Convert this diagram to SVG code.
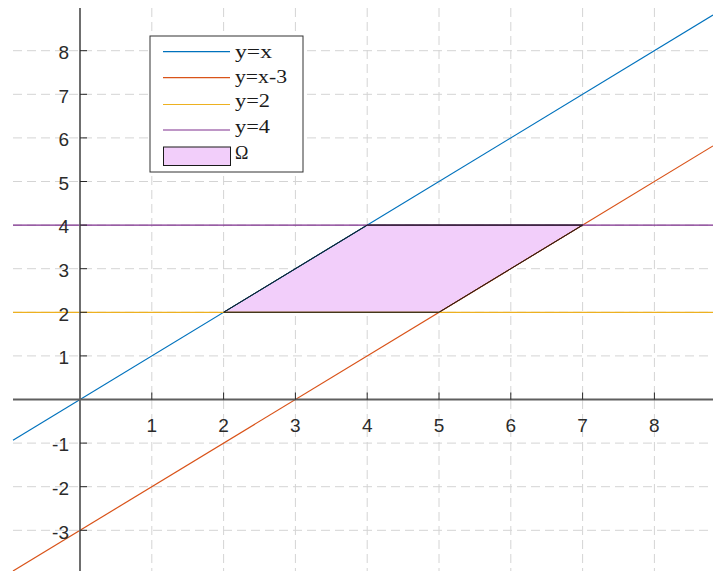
<svg xmlns="http://www.w3.org/2000/svg" width="713" height="571" viewBox="0 0 713 571">
<style>
.grid{stroke:#d4d4d4;stroke-width:1;stroke-dasharray:9,5;fill:none}
.axis{stroke:#5f5f5f;stroke-width:1.8;fill:none}
.tick{stroke:#262626;stroke-width:1;fill:none}
.tl{font-family:"Liberation Sans",Arial,sans-serif;font-size:19px;fill:#2b2b2b}
.ly{text-anchor:end}
.lx{text-anchor:middle}
.leg{font-family:"Liberation Serif","Times New Roman",serif;font-size:18px;fill:#1a1a1a}
.c1{stroke:#0072BD;stroke-width:1.2;fill:none}
.c2{stroke:#D95319;stroke-width:1.2;fill:none}
.c3{stroke:#EDB120;stroke-width:1.2;fill:none}
.c4{stroke:#7E2F8E;stroke-width:1.2;fill:none}
</style>
<rect width="713" height="571" fill="#ffffff"/>
<g id="grid">
<path class="grid" d="M13 50.7H713M13 94.3H713M13 137.9H713M13 181.5H713M13 225.1H713M13 268.7H713M13 312.3H713M13 355.9H713M13 443.1H713M13 486.7H713M13 530.3H713"/>
<path class="grid" d="M151.8 8V571M223.6 8V571M295.4 8V571M367.2 8V571M439 8V571M510.8 8V571M582.6 8V571M654.4 8V571"/>
</g>
<g id="region">
<polygon points="223.6,312.3 367.2,225.1 582.6,225.1 439,312.3" fill="#F2CEFA" stroke="#1a1a1a" stroke-width="1"/>
</g>
<g id="curves">
<line class="c1" x1="13" y1="440.2" x2="713" y2="15.1"/>
<line class="c2" x1="13" y1="571" x2="713" y2="145.9"/>
<line class="c3" x1="13" y1="312.3" x2="713" y2="312.3"/>
<line class="c4" x1="13" y1="225.1" x2="713" y2="225.1"/>
<path d="M223.6 312.3L367.2 225.1H582.6L439 312.3Z" fill="none" stroke="#1a1a1a" stroke-width="1"/>
</g>
<g id="axes">
<line class="axis" x1="13" y1="399.5" x2="713" y2="399.5"/>
<line class="axis" x1="80" y1="8" x2="80" y2="571"/>
<path class="tick" d="M80 50.7h7M80 94.3h7M80 137.9h7M80 181.5h7M80 225.1h7M80 268.7h7M80 312.3h7M80 355.9h7M80 443.1h7M80 486.7h7M80 530.3h7"/>
<path class="tick" d="M151.8 399.5v-7M223.6 399.5v-7M295.4 399.5v-7M367.2 399.5v-7M439 399.5v-7M510.8 399.5v-7M582.6 399.5v-7M654.4 399.5v-7"/>
</g>
<g id="ylabels" class="tl ly">
<text x="69" y="59">8</text>
<text x="69" y="102.6">7</text>
<text x="69" y="146.2">6</text>
<text x="69" y="189.8">5</text>
<text x="69" y="233.4">4</text>
<text x="69" y="277">3</text>
<text x="69" y="320.6">2</text>
<text x="69" y="364.2">1</text>
<text x="69" y="451.4">-1</text>
<text x="69" y="495">-2</text>
<text x="69" y="538.6">-3</text>
</g>
<g id="xlabels" class="tl lx">
<text x="151.8" y="431.5">1</text>
<text x="223.6" y="431.5">2</text>
<text x="295.4" y="431.5">3</text>
<text x="367.2" y="431.5">4</text>
<text x="439" y="431.5">5</text>
<text x="510.8" y="431.5">6</text>
<text x="582.6" y="431.5">7</text>
<text x="654.4" y="431.5">8</text>
</g>
<g id="legend">
<rect x="150" y="36" width="153" height="136" fill="#ffffff" stroke="#333333" stroke-width="1"/>
<line class="c1" x1="163" y1="51.7" x2="230" y2="51.7"/>
<line class="c2" x1="163" y1="77.7" x2="230" y2="77.7"/>
<line class="c3" x1="163" y1="104.5" x2="230" y2="104.5"/>
<line class="c4" x1="163" y1="130" x2="230" y2="130"/>
<rect x="163.5" y="147" width="67" height="18.5" fill="#F2CEFA" stroke="#1a1a1a" stroke-width="1"/>
<text class="leg" x="235" y="57.5" textLength="37" lengthAdjust="spacingAndGlyphs">y=x</text>
<text class="leg" x="235" y="83" textLength="52" lengthAdjust="spacingAndGlyphs">y=x-3</text>
<text class="leg" x="235" y="107" textLength="35" lengthAdjust="spacingAndGlyphs">y=2</text>
<text class="leg" x="235" y="133" textLength="35" lengthAdjust="spacingAndGlyphs">y=4</text>
<text class="leg" x="235" y="159" font-size="19">Ω</text>
</g>
</svg>
